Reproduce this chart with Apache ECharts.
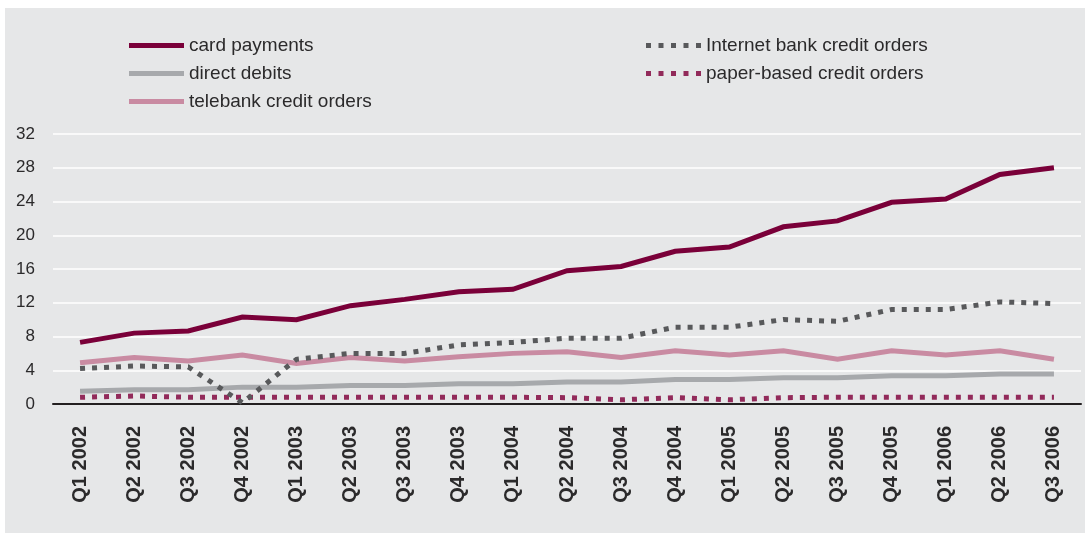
<!DOCTYPE html>
<html>
<head>
<meta charset="utf-8">
<script src="https://cdn.jsdelivr.net/npm/echarts@6/dist/echarts.min.js"></script>
<style>
  html, body { margin: 0; padding: 0; background: #ffffff; }
  #chart {
    width: 1085px; height: 533px; box-sizing: border-box;
    border-left: 5px solid #ffffff; border-top: 8px solid #ffffff;
    background: #e6e7e8;
  }
</style>
</head>
<body>
<div id="chart"></div>
<script>
// Quarterly categories
const quarters = [
  'Q1 2002', 'Q2 2002', 'Q3 2002', 'Q4 2002',
  'Q1 2003', 'Q2 2003', 'Q3 2003', 'Q4 2003',
  'Q1 2004', 'Q2 2004', 'Q3 2004', 'Q4 2004',
  'Q1 2005', 'Q2 2005', 'Q3 2005', 'Q4 2005',
  'Q1 2006', 'Q2 2006', 'Q3 2006'
];

// Series values
const cardPayments = [7.3, 8.4, 8.65, 10.3, 10.0, 11.65, 12.4, 13.3, 13.6, 15.8, 16.3, 18.1, 18.6, 21.0, 21.7, 23.9, 24.3, 27.2, 28.0];
const directDebits = [1.5, 1.7, 1.7, 2.0, 2.0, 2.2, 2.2, 2.4, 2.4, 2.6, 2.6, 2.9, 2.9, 3.1, 3.1, 3.35, 3.35, 3.55, 3.55];
const telebankCredit = [4.9, 5.5, 5.1, 5.8, 4.8, 5.5, 5.1, 5.6, 6.0, 6.2, 5.5, 6.3, 5.8, 6.3, 5.3, 6.3, 5.8, 6.3, 5.3];
const internetCredit = [4.2, 4.5, 4.4, 0.15, 5.3, 6.0, 6.0, 7.0, 7.3, 7.8, 7.8, 9.1, 9.1, 10.0, 9.8, 11.2, 11.2, 12.1, 11.9];
const paperCredit = [0.8, 0.95, 0.8, 0.8, 0.8, 0.8, 0.8, 0.8, 0.8, 0.75, 0.5, 0.75, 0.5, 0.75, 0.8, 0.8, 0.8, 0.8, 0.8];

// Y axis ticks
const yMin = 0, yMax = 32, yStep = 4;

const FONT = '"Liberation Sans", Arial, Helvetica, sans-serif';
const TEXT = '#2b2a2b';

const dotsIcon = 'path://M0,0h5v5h-5z M12.5,0h5v5h-5z M25,0h5v5h-5z M37.5,0h5v5h-5z M50,0h5v5h-5z';
const barIcon = 'path://M0,0h55v5h-55z';

function solid(name, data, color) {
  return {
    name, type: 'line', data, symbol: 'none', smooth: false,
    lineStyle: { color, width: 5, cap: 'butt', join: 'miter' },
    itemStyle: { color }
  };
}
function dotted(name, data, color) {
  return {
    name, type: 'line', data, symbol: 'none', smooth: false,
    lineStyle: { color, width: 5, type: [5, 7], cap: 'butt', join: 'miter' },
    itemStyle: { color }
  };
}

const chart = echarts.init(document.getElementById('chart'), null, { renderer: 'canvas' });

const legendText = { fontFamily: FONT, fontSize: 19, color: TEXT };

chart.setOption({
  animation: false,
  backgroundColor: '#e6e7e8',
  textStyle: { fontFamily: FONT },
  legend: [
    {
      orient: 'vertical', left: 119, top: 23, itemWidth: 55, itemHeight: 5, itemGap: 9,
      textStyle: legendText,
      data: [
        { name: 'card payments', icon: barIcon },
        { name: 'direct debits', icon: barIcon },
        { name: 'telebank credit orders', icon: barIcon }
      ]
    },
    {
      orient: 'vertical', left: 636, top: 23, itemWidth: 55, itemHeight: 5, itemGap: 9,
      textStyle: legendText,
      data: [
        { name: 'Internet bank credit orders', icon: dotsIcon },
        { name: 'paper-based credit orders', icon: dotsIcon }
      ]
    }
  ],
  grid: { left: 48, right: 4, top: 126, bottom: 129, containLabel: false },
  xAxis: {
    type: 'category', data: quarters, boundaryGap: true,
    axisLine: { show: true, lineStyle: { color: '#231f20', width: 2 } },
    axisTick: { show: false },
    axisLabel: {
      rotate: 90, margin: 22, interval: 0,
      fontFamily: FONT, fontSize: 20, fontWeight: 'bold', color: TEXT
    },
    splitLine: { show: false }
  },
  yAxis: {
    type: 'value', min: yMin, max: yMax, interval: yStep,
    axisLine: { show: false }, axisTick: { show: false },
    axisLabel: { margin: 18, fontFamily: FONT, fontSize: 17, color: TEXT },
    splitLine: { show: true, lineStyle: { color: '#ffffff', width: 1.5 } }
  },
  series: [
    solid('direct debits', directDebits, '#a7a9ac'),
    solid('telebank credit orders', telebankCredit, '#c98ba2'),
    dotted('paper-based credit orders', paperCredit, '#922a5a'),
    dotted('Internet bank credit orders', internetCredit, '#58595b'),
    solid('card payments', cardPayments, '#7a0039')
  ]
});
</script>
</body>
</html>
